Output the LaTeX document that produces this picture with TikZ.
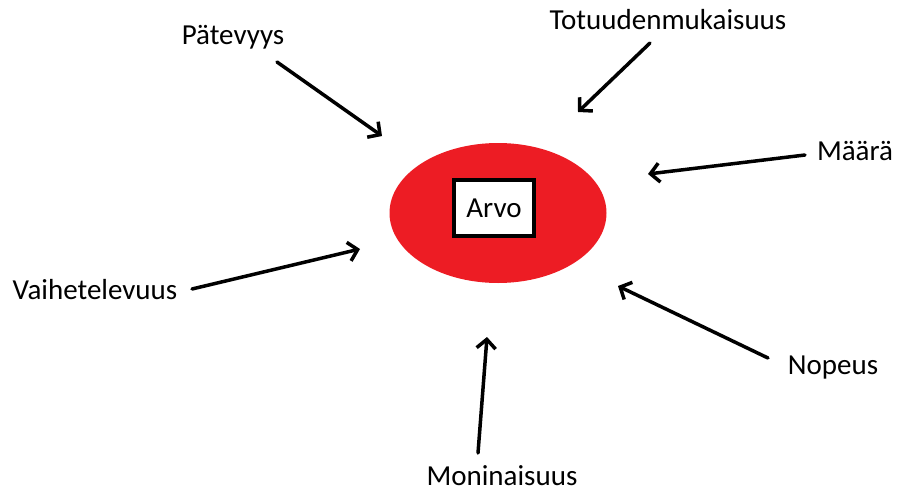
\documentclass[tikz,border=0pt]{standalone}
\usepackage{fontspec}
\setmainfont{Carlito}
\usetikzlibrary{arrows.meta,shapes.geometric}
\definecolor{paintred}{HTML}{ED1C24}
\tikzset{
  lbl/.style={font=\fontsize{29}{33}\selectfont, inner sep=0pt},
  arr/.style={line width=3.5pt, -{Straight Barb[length=9pt,width=19pt,line width=3.5pt]}, line cap=round},
}
\begin{document}
\begin{tikzpicture}[x=1pt,y=-1pt]
\useasboundingbox (0,0) rectangle (898,493);
\node[ellipse, fill=paintred, minimum width=217pt, minimum height=140pt, inner sep=0pt] (ell) at (498,213) {};
\node[draw=black, line width=3.5pt, fill=white, minimum width=80pt, minimum height=56pt, inner sep=0pt, lbl] (arvo) at (494,208) {Arvo};
\node[lbl] (pat) at (233,37) {Pätevyys};
\node[lbl] (tot) at (668,20) {Totuudenmukaisuus};
\node[lbl] (maa) at (855,151) {Määrä};
\node[lbl] (vai) at (95,290) {Vaihetelevuus};
\node[lbl] (nop) at (833,368) {Nopeus};
\node[lbl] (mon) at (502,476) {Moninaisuus};
\coordinate (p1) at (277,62);  \coordinate (p2) at (382,136);
\coordinate (t1) at (650,43);  \coordinate (t2) at (578,112);
\coordinate (m1) at (805,155); \coordinate (m2) at (648,174);
\coordinate (v1) at (192,289); \coordinate (v2) at (360,249);
\coordinate (n1) at (768,358); \coordinate (n2) at (618,286);
\coordinate (o1) at (478,453); \coordinate (o2) at (487,337);
\draw[arr] (p1) -- (p2);
\draw[arr] (t1) -- (t2);
\draw[arr] (m1) -- (m2);
\draw[arr] (v1) -- (v2);
\draw[arr] (n1) -- (n2);
\draw[arr] (o1) -- (o2);
\end{tikzpicture}
\end{document}
